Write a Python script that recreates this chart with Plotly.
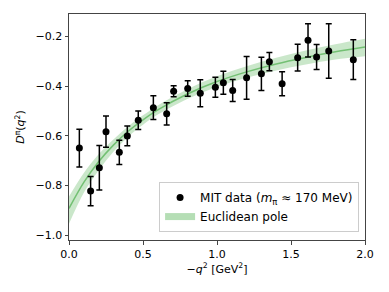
import plotly.graph_objects as go

# MIT lattice data
q2_data = [0.07, 0.146, 0.205, 0.25, 0.34, 0.394, 0.468, 0.57, 0.66, 0.707, 0.802, 0.887,
           0.989, 1.043, 1.106, 1.20, 1.30, 1.354, 1.44, 1.545, 1.615, 1.673, 1.755, 1.921]
d_data = [-0.650, -0.823, -0.729, -0.584, -0.667, -0.601, -0.538, -0.487, -0.512, -0.421, -0.410, -0.429,
          -0.405, -0.387, -0.418, -0.367, -0.351, -0.302, -0.391, -0.286, -0.216, -0.283, -0.259, -0.294]
d_err = [0.076, 0.059, 0.090, 0.063, 0.049, 0.040, 0.037, 0.048, 0.045, 0.022, 0.031, 0.054,
         0.040, 0.046, 0.044, 0.086, 0.067, 0.037, 0.048, 0.054, 0.067, 0.050, 0.110, 0.080]

# Euclidean pole curve and band
q2_curve = [0.0, 0.1, 0.2, 0.3, 0.4, 0.5, 0.6, 0.8, 1.0, 1.2, 1.4, 1.6, 1.8, 2.0]
d_curve = [-0.893, -0.788, -0.705, -0.638, -0.582, -0.536, -0.496, -0.432, -0.382, -0.343, -0.311, -0.285, -0.262, -0.243]
d_upper = [-0.845, -0.750, -0.675, -0.615, -0.562, -0.518, -0.478, -0.413, -0.361, -0.320, -0.286, -0.257, -0.232, -0.210]
d_lower = [-0.955, -0.830, -0.740, -0.665, -0.604, -0.556, -0.515, -0.452, -0.404, -0.367, -0.337, -0.313, -0.293, -0.280]

xticks = [0.0, 0.5, 1.0, 1.5, 2.0]
yticks = [-1.0, -0.8, -0.6, -0.4, -0.2]

green_fill = "rgba(44,160,44,0.25)"
green_line = "rgba(44,160,44,0.55)"

fig = go.Figure()

fig.add_trace(go.Scatter(x=q2_curve, y=d_upper, mode="lines", line=dict(width=0, shape="spline"),
                         showlegend=False, hoverinfo="skip"))
fig.add_trace(go.Scatter(x=q2_curve, y=d_lower, mode="lines", line=dict(width=0, shape="spline"),
                         fill="tonexty", fillcolor=green_fill, showlegend=False, hoverinfo="skip"))
fig.add_trace(go.Scatter(x=q2_curve, y=d_curve, mode="lines", line=dict(color=green_line, width=1.5, shape="spline"),
                         showlegend=False))

fig.add_trace(go.Scatter(
    x=q2_data, y=d_data, mode="markers",
    marker=dict(color="black", size=7),
    error_y=dict(type="data", array=d_err, color="black", thickness=1.5, width=3),
    name="MIT data (<i>m</i><sub>π</sub> ≈ 170 MeV)"))

# legend proxy for pole
fig.add_trace(go.Scatter(x=[None], y=[None], mode="lines", line=dict(color="rgba(44,160,44,0.35)", width=7),
                         name="Euclidean pole"))

axis_common = dict(showline=True, linecolor="#444", linewidth=1, mirror=True,
                   ticks="outside", ticklen=3.5, tickwidth=1, tickcolor="#444",
                   showgrid=False, zeroline=False, automargin=False,
                   tickfont=dict(family="DejaVu Sans", size=11, color="black"))

fig.update_layout(
    width=381, height=284,
    margin=dict(l=61, r=24, t=6, b=52),
    paper_bgcolor="white", plot_bgcolor="white",
    font=dict(family="DejaVu Sans", size=11, color="black"),
    xaxis=dict(range=[0, 2.0], tickvals=xticks, ticktext=[f"{v:.1f}" for v in xticks],
               title=dict(text="−<i>q</i><sup>2</sup> [GeV<sup>2</sup>]", standoff=5,
                          font=dict(family="DejaVu Sans", size=11)),
               **axis_common),
    yaxis=dict(range=[-1.02, -0.11], tickvals=yticks, ticktext=["−" + f"{abs(v):.1f}" for v in yticks],
               title=dict(text="<i>D</i><sup>π</sup>(<i>q</i><sup>2</sup>)", standoff=8,
                          font=dict(family="DejaVu Sans", size=11)),
               **axis_common),
    legend=dict(x=0.98, y=0.035, xanchor="right", yanchor="bottom", traceorder="normal",
                bgcolor="rgba(255,255,255,0.85)", bordercolor="#ccc", borderwidth=1,
                font=dict(family="DejaVu Sans", size=12), tracegroupgap=0,
                itemwidth=30),
    showlegend=True,
)

fig.write_html("out.html")
